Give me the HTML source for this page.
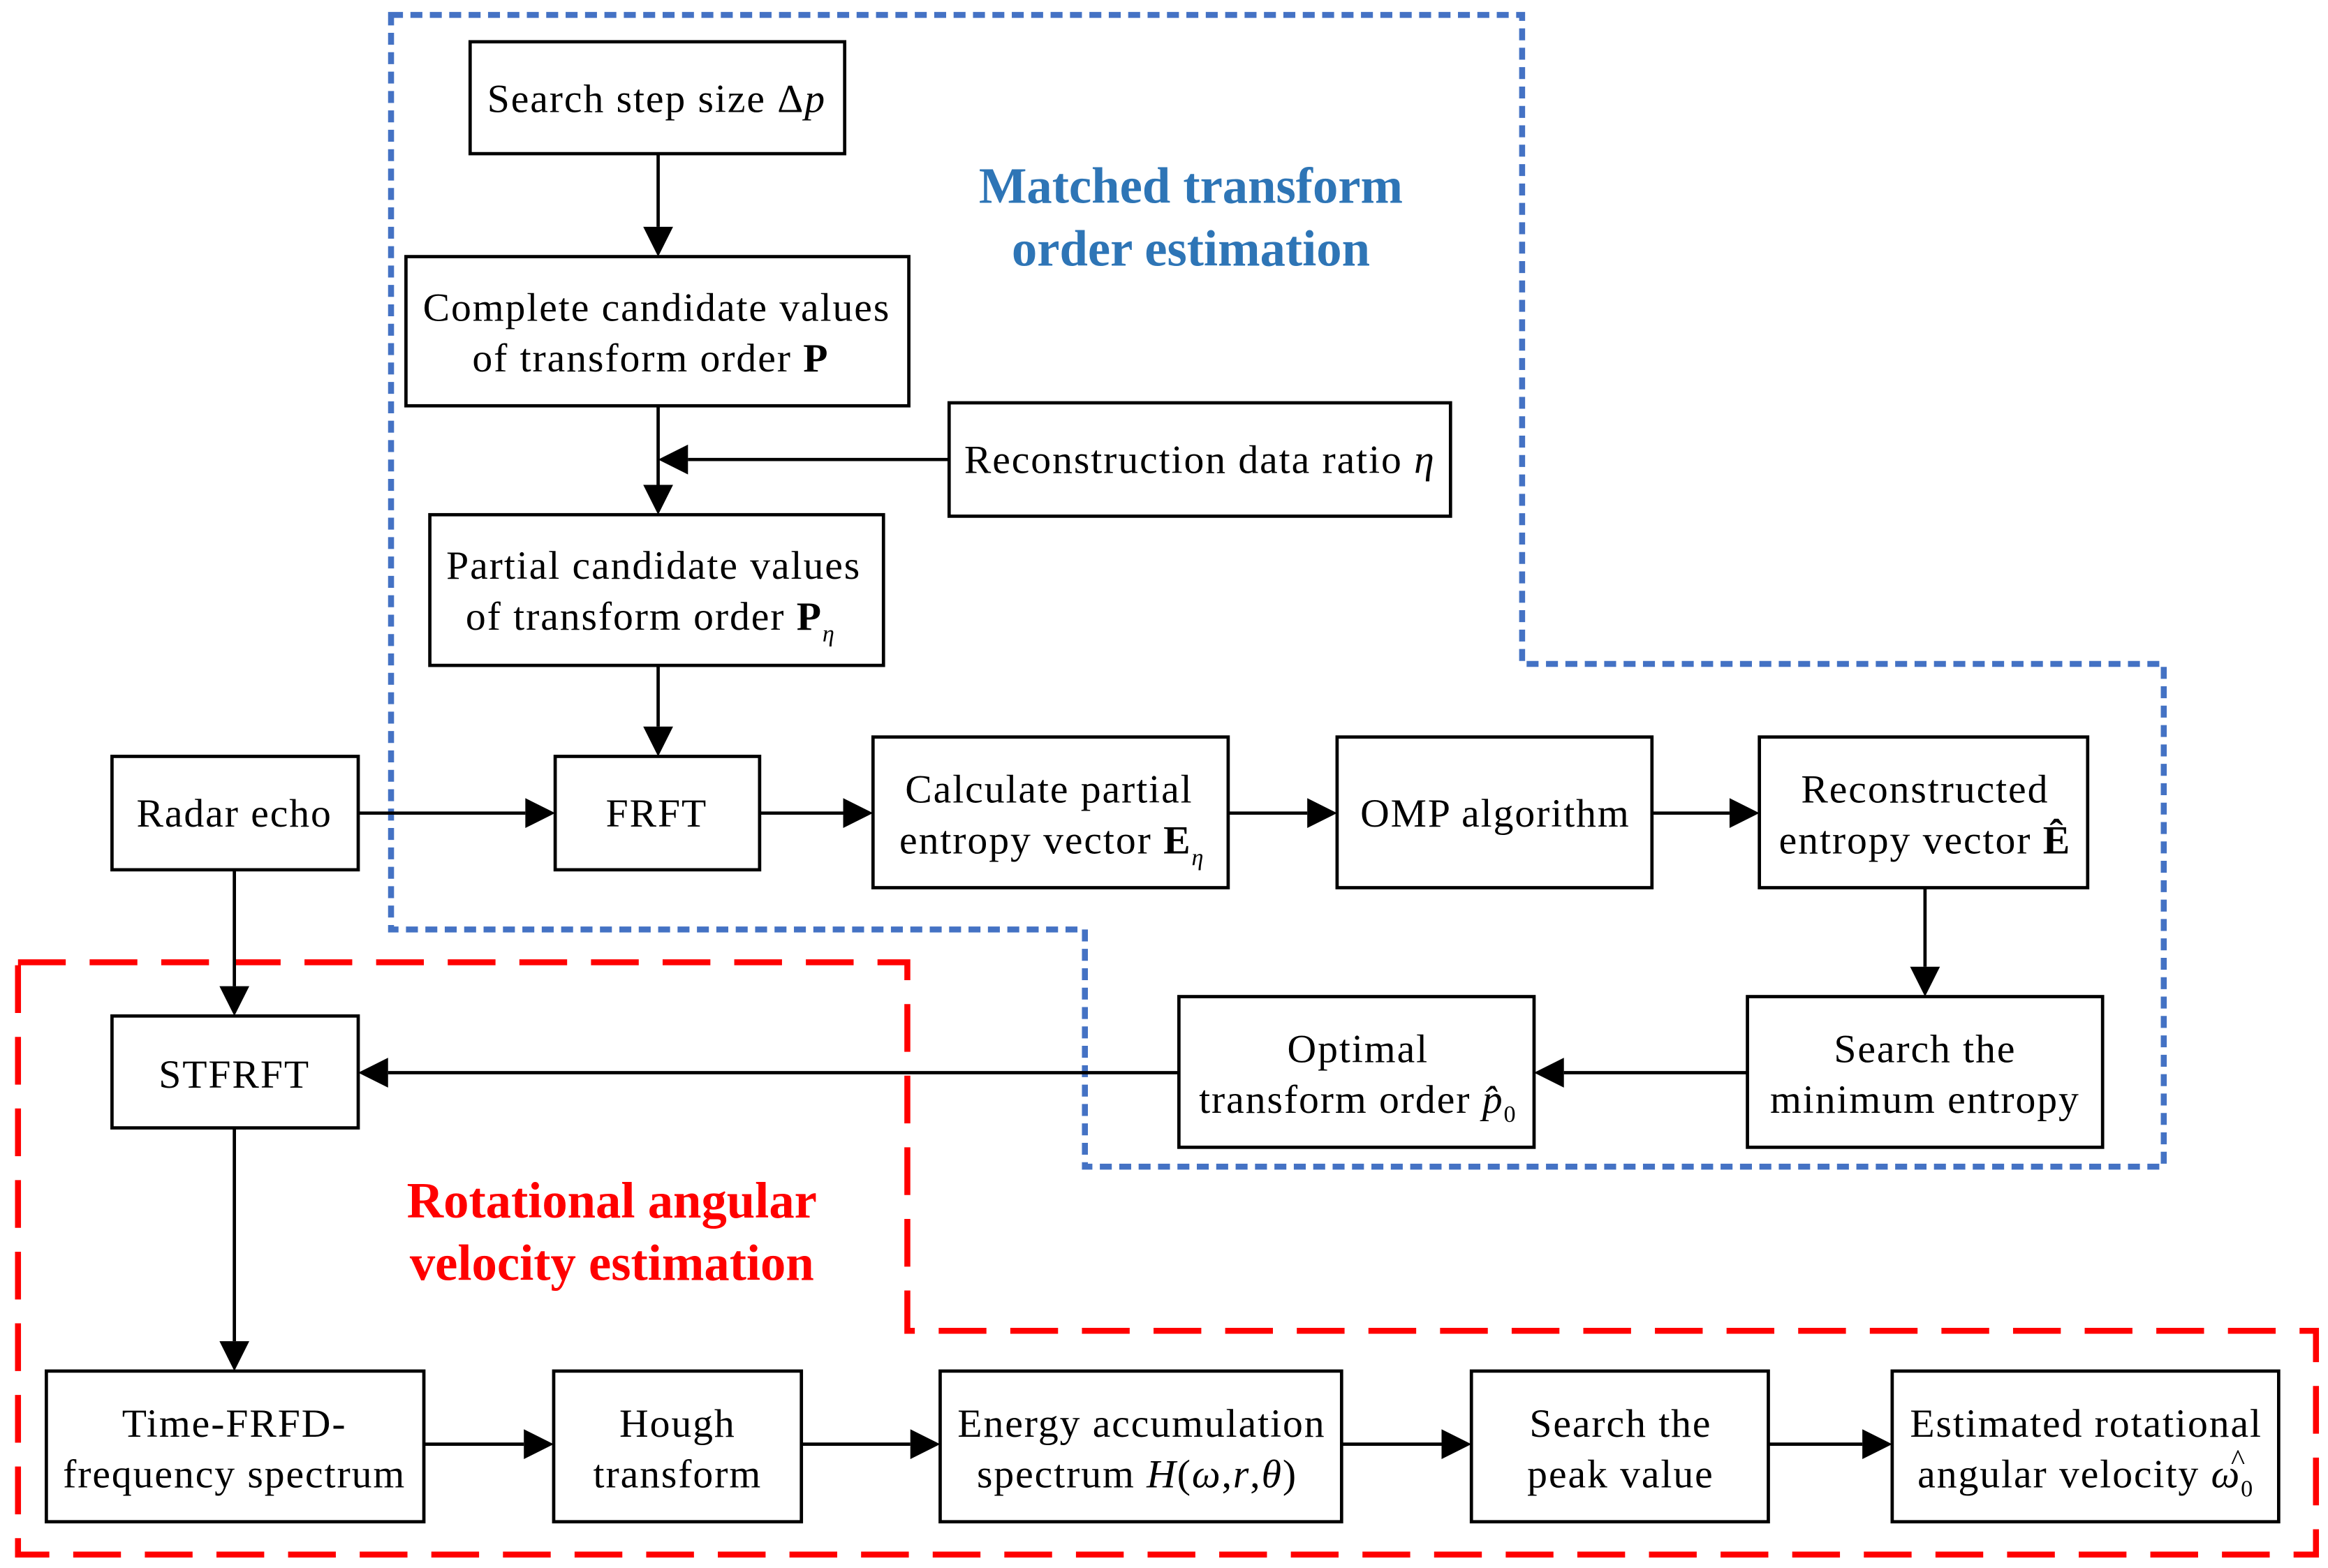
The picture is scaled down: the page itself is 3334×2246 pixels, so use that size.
<!DOCTYPE html>
<html><head><meta charset="utf-8"><style>
html,body{margin:0;padding:0;background:#fff;}
svg{display:block;}
text{font-family:"Liberation Serif",serif;font-size:27px;fill:#000;letter-spacing:0.9px;}
.t{text-anchor:middle;}
.b{fill:#fff;stroke:#000;stroke-width:2.2;}
.l{stroke:#000;stroke-width:2.2;fill:none;}
.h{letter-spacing:0;}
</style></head><body>
<svg width="3334" height="2246" viewBox="0 0 1560 1051" xmlns="http://www.w3.org/2000/svg">
<rect width="1560" height="1051" fill="#fff"/>
<polygon points="262,10 1020,10 1020,445 1450,445 1450,782 727,782 727,623 262,623" fill="none" stroke="#4472C4" stroke-width="4" stroke-dasharray="8,5"/>
<polygon points="12,645 608,645 608,892 1552,892 1552,1042 12,1042" fill="none" stroke="#FF0000" stroke-width="4" stroke-dasharray="32,16"/>
<text x="798" y="136" class="t h" style="font-weight:bold;font-size:34px;fill:#2E75B6">Matched transform</text>
<text x="798" y="178" class="t h" style="font-weight:bold;font-size:34px;fill:#2E75B6">order estimation</text>
<text x="410" y="816" class="t h" style="font-weight:bold;font-size:34px;fill:#FF0000">Rotational angular</text>
<text x="410" y="858" class="t h" style="font-weight:bold;font-size:34px;fill:#FF0000">velocity estimation</text>
<g class="l">
<line x1="441" y1="103" x2="441" y2="152"/>
<line x1="441" y1="272" x2="441" y2="325"/>
<line x1="636" y1="308" x2="461" y2="308"/>
<line x1="441" y1="446" x2="441" y2="487"/>
<line x1="240" y1="545" x2="352" y2="545"/>
<line x1="509" y1="545" x2="565" y2="545"/>
<line x1="823" y1="545" x2="876" y2="545"/>
<line x1="1107" y1="545" x2="1159" y2="545"/>
<line x1="1290" y1="595" x2="1290" y2="648"/>
<line x1="1171" y1="719" x2="1048" y2="719"/>
<line x1="790" y1="719" x2="260" y2="719"/>
<line x1="157" y1="583" x2="157" y2="661"/>
<line x1="157" y1="756" x2="157" y2="899"/>
<line x1="284" y1="968" x2="351" y2="968"/>
<line x1="537" y1="968" x2="610" y2="968"/>
<line x1="899" y1="968" x2="966" y2="968"/>
<line x1="1185" y1="968" x2="1248" y2="968"/>
</g>
<g fill="#000">
<polygon points="431,152 451,152 441,172"/>
<polygon points="431,325 451,325 441,345"/>
<polygon points="461,298 461,318 441,308"/>
<polygon points="431,487 451,487 441,507"/>
<polygon points="352,535 352,555 372,545"/>
<polygon points="565,535 565,555 585,545"/>
<polygon points="876,535 876,555 896,545"/>
<polygon points="1159,535 1159,555 1179,545"/>
<polygon points="1280,648 1300,648 1290,668"/>
<polygon points="1048,709 1048,729 1028,719"/>
<polygon points="260,709 260,729 240,719"/>
<polygon points="147,661 167,661 157,681"/>
<polygon points="147,899 167,899 157,919"/>
<polygon points="351,958 351,978 371,968"/>
<polygon points="610,958 610,978 630,968"/>
<polygon points="966,958 966,978 986,968"/>
<polygon points="1248,958 1248,978 1268,968"/>
</g>
<g class="b">
<rect x="315" y="28" width="251" height="75"/>
<rect x="272" y="172" width="337" height="100"/>
<rect x="636" y="270" width="336" height="76"/>
<rect x="288" y="345" width="304" height="101"/>
<rect x="75" y="507" width="165" height="76"/>
<rect x="372" y="507" width="137" height="76"/>
<rect x="585" y="494" width="238" height="101"/>
<rect x="896" y="494" width="211" height="101"/>
<rect x="1179" y="494" width="220" height="101"/>
<rect x="1171" y="668" width="238" height="101"/>
<rect x="790" y="668" width="238" height="101"/>
<rect x="75" y="681" width="165" height="75"/>
<rect x="31" y="919" width="253" height="101"/>
<rect x="371" y="919" width="166" height="101"/>
<rect x="630" y="919" width="269" height="101"/>
<rect x="986" y="919" width="199" height="101"/>
<rect x="1268" y="919" width="259" height="101"/>
</g>
<text x="440" y="75" class="t">Search step size  Δ<tspan font-style="italic">p</tspan></text>
<text x="440" y="215" class="t">Complete candidate values</text>
<text x="436" y="249" class="t">of transform order  <tspan font-weight="bold">P</tspan></text>
<text x="804" y="317" class="t">Reconstruction data ratio  <tspan font-style="italic">η</tspan></text>
<text x="438" y="388" class="t">Partial candidate values</text>
<text x="436" y="422" class="t">of transform order <tspan font-weight="bold">P</tspan><tspan font-style="italic" font-size="16" dy="8">η</tspan></text>
<text x="157" y="554" class="t">Radar echo</text>
<text x="440" y="554" class="t">FRFT</text>
<text x="703" y="538" class="t">Calculate partial</text>
<text x="705" y="572" class="t">entropy vector  <tspan font-weight="bold">E</tspan><tspan font-style="italic" font-size="16" dy="8">η</tspan></text>
<text x="1002" y="554" class="t">OMP algorithm</text>
<text x="1290" y="538" class="t">Reconstructed</text>
<text x="1290" y="572" class="t">entropy vector <tspan font-weight="bold">Ê</tspan></text>
<text x="1290" y="712" class="t">Search the</text>
<text x="1290" y="746" class="t">minimum entropy</text>
<text x="910" y="712" class="t">Optimal</text>
<text x="910" y="746" class="t">transform order <tspan font-style="italic">p̂</tspan><tspan font-size="16" dy="6">0</tspan></text>
<text x="157" y="729" class="t">STFRFT</text>
<text x="157" y="963" class="t">Time-FRFD-</text>
<text x="157" y="997" class="t">frequency spectrum</text>
<text x="454" y="963" class="t">Hough</text>
<text x="454" y="997" class="t">transform</text>
<text x="765" y="963" class="t">Energy accumulation</text>
<text x="762" y="997" class="t">spectrum  <tspan font-style="italic">H</tspan>(<tspan font-style="italic">ω</tspan>,<tspan font-style="italic">r</tspan>,<tspan font-style="italic">θ</tspan>)</text>
<text x="1086" y="963" class="t">Search the</text>
<text x="1086" y="997" class="t">peak value</text>
<text x="1398" y="963" class="t">Estimated rotational</text>
<text x="1285" y="997">angular velocity  <tspan font-style="italic">ω</tspan><tspan font-size="16" dy="6">0</tspan></text>
<text x="1495" y="985" style="font-size:20px">^</text>
</svg>
</body></html>
